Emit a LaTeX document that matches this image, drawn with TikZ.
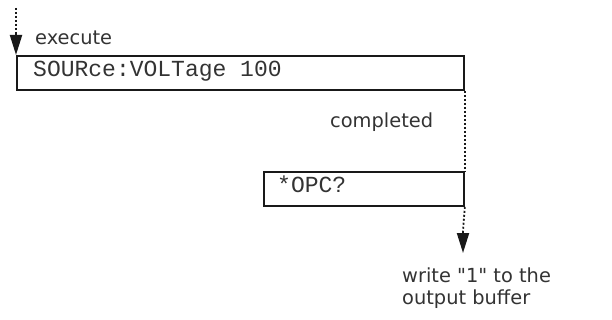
\documentclass[tikz,border=0pt]{standalone}
\usepackage{fontspec}
\setmainfont{DejaVu Sans}[Ligatures=TeXOff]
\newfontfamily\cmdfont{Liberation Mono}
\usetikzlibrary{arrows.meta}
\tikzset{
  box/.style={draw=black!90, line width=1.8pt, rectangle, inner sep=0pt, anchor=north west},
  lbl/.style={font=\fontsize{19.4}{22}\selectfont, text=black!80, inner sep=0pt, anchor=base west},
  cmd/.style={font=\cmdfont\fontsize{23}{26}\selectfont, text=black!80, inner sep=0pt, anchor=base west},
  dots/.style={draw=black!90, line width=1.8pt, dash pattern=on 2pt off 2pt},
  arr/.style={draw=black!90, line width=2pt, -{Triangle[length=20pt,width=12pt]}}
}
\begin{document}
\begin{tikzpicture}[x=1pt,y=-1pt]
\useasboundingbox (0,0) rectangle (612,320);
% boxes
\node[box, minimum width=447pt, minimum height=34pt] (b1) at (16,55) {};
\node[box, minimum width=200pt, minimum height=34pt] (b2) at (263,171) {};
\node[cmd] (t1) at (33,77) {SOURce:VOLTage 100};
\node[cmd] (t2) at (277,193) {*OPC?};
% labels
\node[lbl] (exe) at (35,45) {execute};
\node[lbl] (cmp) at (330,128) {completed};
\node[lbl] (wr1) at (402,282) {write "1" to the};
\node[lbl] (wr2) at (402,304) {output buffer};
% top arrow
\coordinate (s0) at (16,8);
\coordinate (s1) at (16,32);
\draw[dots] (s0) -- (s1);
\draw[arr] (s1) -- (b1.north west);
% between boxes
\draw[dots] (b1.south east) -- (b2.north east);
% bottom arrow
\coordinate (e1) at (463,231);
\coordinate (e2) at (463,253);
\draw[dots] (b2.south east) -- (e1);
\draw[arr] (e1) -- (e2);
\end{tikzpicture}
\end{document}
